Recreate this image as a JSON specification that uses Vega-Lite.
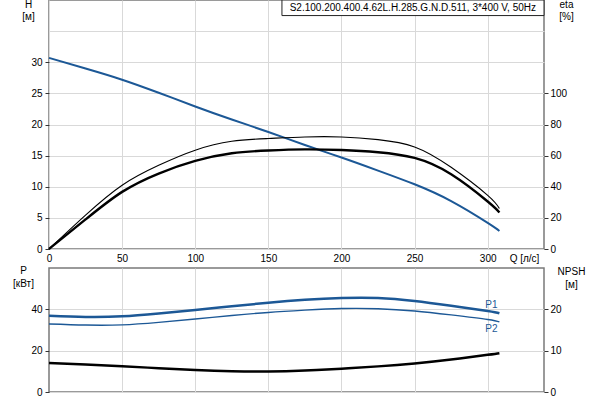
{
  "$schema": "https://vega.github.io/schema/vega-lite/v6.json",
  "autosize": "none",
  "padding": {"left": 49, "top": 0, "right": 551, "bottom": 400},
  "config": {
    "font": "Liberation Sans",
    "view": {"stroke": "#7a7a7a", "strokeWidth": 1.5},
    "axis": {
      "labelFontSize": 10,
      "labelColor": "#000",
      "titleFontSize": 10,
      "titleFontWeight": "normal",
      "titleColor": "#000",
      "gridColor": "#d9d9d9",
      "gridWidth": 1,
      "tickColor": "#333",
      "domain": false,
      "labelFlush": false
    }
  },
  "datasets": {
    "H": [
      {"Q": 0, "H": 30.7}, {"Q": 25, "H": 29.0}, {"Q": 50, "H": 27.2},
      {"Q": 75, "H": 25.1}, {"Q": 100, "H": 22.9}, {"Q": 125, "H": 20.8}, {"Q": 150, "H": 18.8},
      {"Q": 175, "H": 16.7}, {"Q": 200, "H": 14.7}, {"Q": 225, "H": 12.6}, {"Q": 250, "H": 10.4},
      {"Q": 275, "H": 7.7}, {"Q": 300, "H": 4.2}, {"Q": 308, "H": 2.9}
    ],
    "eta": [
      {"Q": 0, "eta": 0, "curve": "thin"}, {"Q": 25, "eta": 21.8, "curve": "thin"},
      {"Q": 50, "eta": 41, "curve": "thin"}, {"Q": 75, "eta": 53.8, "curve": "thin"}, {"Q": 100, "eta": 63.5, "curve": "thin"},
      {"Q": 125, "eta": 69.2, "curve": "thin"}, {"Q": 150, "eta": 71, "curve": "thin"}, {"Q": 175, "eta": 72, "curve": "thin"},
      {"Q": 200, "eta": 72, "curve": "thin"}, {"Q": 225, "eta": 70.3, "curve": "thin"}, {"Q": 250, "eta": 65.6, "curve": "thin"},
      {"Q": 275, "eta": 52.5, "curve": "thin"}, {"Q": 300, "eta": 34.5, "curve": "thin"}, {"Q": 308, "eta": 26, "curve": "thin"},
      {"Q": 0, "eta": 0, "curve": "thick"}, {"Q": 25, "eta": 19, "curve": "thick"},
      {"Q": 50, "eta": 36.7, "curve": "thick"}, {"Q": 75, "eta": 48.5, "curve": "thick"}, {"Q": 100, "eta": 56.6, "curve": "thick"},
      {"Q": 125, "eta": 61.5, "curve": "thick"}, {"Q": 150, "eta": 63.3, "curve": "thick"}, {"Q": 175, "eta": 64, "curve": "thick"},
      {"Q": 200, "eta": 63.6, "curve": "thick"}, {"Q": 225, "eta": 62.2, "curve": "thick"}, {"Q": 250, "eta": 58.5, "curve": "thick"},
      {"Q": 275, "eta": 48, "curve": "thick"}, {"Q": 300, "eta": 30.5, "curve": "thick"}, {"Q": 308, "eta": 23.5, "curve": "thick"}
    ],
    "P1": [
      {"Q": 0, "P": 36.9}, {"Q": 25, "P": 36.3}, {"Q": 50, "P": 36.6}, {"Q": 75, "P": 38.0},
      {"Q": 100, "P": 39.7}, {"Q": 125, "P": 41.5}, {"Q": 150, "P": 43.2}, {"Q": 175, "P": 44.6},
      {"Q": 200, "P": 45.5}, {"Q": 225, "P": 45.5}, {"Q": 250, "P": 44.0}, {"Q": 275, "P": 41.7},
      {"Q": 300, "P": 39.2}, {"Q": 308, "P": 38.1}
    ],
    "P2": [
      {"Q": 0, "P": 32.9}, {"Q": 25, "P": 32.4}, {"Q": 50, "P": 32.5}, {"Q": 75, "P": 33.7},
      {"Q": 100, "P": 35.3}, {"Q": 125, "P": 37.0}, {"Q": 150, "P": 38.5}, {"Q": 175, "P": 39.6},
      {"Q": 200, "P": 40.4}, {"Q": 225, "P": 40.3}, {"Q": 250, "P": 39.2}, {"Q": 275, "P": 37.3},
      {"Q": 300, "P": 35.1}, {"Q": 308, "P": 33.9}
    ],
    "NPSH": [
      {"Q": 0, "NPSH": 7.04}, {"Q": 25, "NPSH": 6.65}, {"Q": 50, "NPSH": 6.24}, {"Q": 75, "NPSH": 5.75},
      {"Q": 100, "NPSH": 5.3}, {"Q": 125, "NPSH": 5.0}, {"Q": 150, "NPSH": 4.95}, {"Q": 175, "NPSH": 5.2},
      {"Q": 200, "NPSH": 5.65}, {"Q": 225, "NPSH": 6.2}, {"Q": 250, "NPSH": 6.9}, {"Q": 275, "NPSH": 7.85},
      {"Q": 300, "NPSH": 9.0}, {"Q": 308, "NPSH": 9.4}
    ],
    "labels": [
      {"Q": 308, "P": 38.1, "label": "P1"},
      {"Q": 308, "P": 33.9, "label": "P2"}
    ],
    "box": [{"label": "S2.100.200.400.4.62L.H.285.G.N.D.511, 3*400 V, 50Hz"}]
  },
  "spacing": 19,
  "bounds": "flush",
  "vconcat": [
    {
      "width": 495,
      "height": 249,
      "layer": [
        {
          "layer": [
            {
              "data": {"name": "H"},
              "mark": {"type": "line", "color": "#1c5896", "strokeWidth": 2, "interpolate": "natural"},
              "encoding": {
                "x": {
                  "field": "Q", "type": "quantitative",
                  "scale": {"domain": [0, 338.5], "nice": false, "zero": false},
                  "axis": {
                    "values": [0, 50, 100, 150, 200, 250, 300], "labelFlush": false,
                    "ticks": false, "labelPadding": 4, "grid": true,
                    "title": "Q [л/с]", "titleX": 475, "titleY": 4,
                    "titleAlign": "center", "titleBaseline": "top", "titleFontSize": 10
                  }
                },
                "y": {
                  "field": "H", "type": "quantitative",
                  "scale": {"domain": [0, 40], "nice": false},
                  "axis": {
                    "values": [0, 5, 10, 15, 20, 25, 30, 35], "labelOverlap": false,
                    "labelExpr": "datum.value > 30 ? '' : datum.label",
                    "tickOpacity": {"condition": {"test": "datum.value > 30", "value": 0}, "value": 1},
                    "tickSize": 4, "labelPadding": 3, "grid": true,
                    "title": ["H", "[м]"], "titleAngle": 0, "titleX": -21, "titleY": -1,
                    "titleAlign": "center", "titleBaseline": "top", "titleLineHeight": 12
                  }
                }
              }
            },
            {
              "data": {"name": "box"},
              "mark": {"type": "rect", "fill": "white", "stroke": "#222", "strokeWidth": 1},
              "encoding": {
                "x": {
                  "datum": 159.3, "type": "quantitative",
                  "axis": {
                    "values": [0, 50, 100, 150, 200, 250, 300], "labelFlush": false,
                    "ticks": false, "labelPadding": 4, "grid": true,
                    "title": "Q [л/с]", "titleX": 475, "titleY": 4,
                    "titleAlign": "center", "titleBaseline": "top", "titleFontSize": 10
                  }
                },
                "x2": {"datum": 338.5},
                "y": {
                  "datum": 37.5, "type": "quantitative",
                  "axis": {
                    "values": [0, 5, 10, 15, 20, 25, 30, 35], "labelOverlap": false,
                    "labelExpr": "datum.value > 30 ? '' : datum.label",
                    "tickOpacity": {"condition": {"test": "datum.value > 30", "value": 0}, "value": 1},
                    "tickSize": 4, "labelPadding": 3, "grid": true,
                    "title": ["H", "[м]"], "titleAngle": 0, "titleX": -21, "titleY": -1,
                    "titleAlign": "center", "titleBaseline": "top", "titleLineHeight": 12
                  }
                },
                "y2": {"datum": 40}
              }
            },
            {
              "data": {"name": "box"},
              "mark": {"type": "text", "fontSize": 10, "align": "center", "baseline": "middle", "color": "#000"},
              "encoding": {
                "x": {
                  "datum": 248.8, "type": "quantitative",
                  "axis": {
                    "values": [0, 50, 100, 150, 200, 250, 300], "labelFlush": false,
                    "ticks": false, "labelPadding": 4, "grid": true,
                    "title": "Q [л/с]", "titleX": 475, "titleY": 4,
                    "titleAlign": "center", "titleBaseline": "top", "titleFontSize": 10
                  }
                },
                "y": {
                  "datum": 38.75, "type": "quantitative",
                  "axis": {
                    "values": [0, 5, 10, 15, 20, 25, 30, 35], "labelOverlap": false,
                    "labelExpr": "datum.value > 30 ? '' : datum.label",
                    "tickOpacity": {"condition": {"test": "datum.value > 30", "value": 0}, "value": 1},
                    "tickSize": 4, "labelPadding": 3, "grid": true,
                    "title": ["H", "[м]"], "titleAngle": 0, "titleX": -21, "titleY": -1,
                    "titleAlign": "center", "titleBaseline": "top", "titleLineHeight": 12
                  }
                },
                "text": {"field": "label"}
              }
            }
          ]
        },
        {
          "data": {"name": "eta"},
          "mark": {"type": "line", "color": "#000", "interpolate": "natural"},
          "encoding": {
            "x": {"field": "Q", "type": "quantitative"},
            "y": {
              "field": "eta", "type": "quantitative",
              "scale": {"domain": [0, 160], "nice": false},
              "axis": {
                "orient": "right", "values": [0, 20, 40, 60, 80, 100], "labelOverlap": false,
                "tickSize": 4, "labelPadding": 2, "grid": false,
                "title": ["eta", "[%]"], "titleAngle": 0, "titleX": 22, "titleY": -1,
                "titleAlign": "center", "titleBaseline": "top", "titleLineHeight": 12
              }
            },
            "detail": {"field": "curve"},
            "strokeWidth": {"field": "curve", "type": "nominal", "scale": {"domain": ["thin", "thick"], "range": [1.1, 2.4]}, "legend": null}
          }
        }
      ],
      "resolve": {"scale": {"y": "independent"}, "axis": {"y": "independent"}}
    },
    {
      "width": 495,
      "height": 124,
      "layer": [
        {
          "layer": [
            {
              "data": {"name": "P1"},
              "mark": {"type": "line", "color": "#1c5896", "strokeWidth": 2.5, "interpolate": "natural"},
              "encoding": {
                "x": {
                  "field": "Q", "type": "quantitative",
                  "scale": {"domain": [0, 338.5], "nice": false, "zero": false},
                  "axis": {"values": [50, 100, 150, 200, 250, 300], "labels": false, "ticks": false, "grid": true, "title": null}
                },
                "y": {
                  "field": "P", "type": "quantitative",
                  "scale": {"domain": [0, 60], "nice": false},
                  "axis": {
                    "values": [0, 20, 40], "tickSize": 4, "labelPadding": 3, "grid": true, "labelOverlap": false,
                    "title": ["P", "[кВт]"], "titleAngle": 0, "titleX": -26, "titleY": -2.5,
                    "titleAlign": "center", "titleBaseline": "top", "titleLineHeight": 12.5
                  }
                }
              }
            },
            {
              "data": {"name": "P2"},
              "mark": {"type": "line", "color": "#1c5896", "strokeWidth": 1.4, "interpolate": "natural"},
              "encoding": {
                "x": {
                  "field": "Q", "type": "quantitative",
                  "axis": {"values": [50, 100, 150, 200, 250, 300], "labels": false, "ticks": false, "grid": true, "title": null}
                },
                "y": {
                  "field": "P", "type": "quantitative",
                  "axis": {
                    "values": [0, 20, 40], "tickSize": 4, "labelPadding": 3, "grid": true, "labelOverlap": false,
                    "title": ["P", "[кВт]"], "titleAngle": 0, "titleX": -26, "titleY": -2.5,
                    "titleAlign": "center", "titleBaseline": "top", "titleLineHeight": 12.5
                  }
                }
              }
            },
            {
              "data": {"name": "labels"},
              "transform": [{"filter": "datum.label == 'P1'"}],
              "mark": {"type": "text", "color": "#1c5896", "fontSize": 10, "align": "center", "baseline": "middle", "dx": -8, "dy": -8},
              "encoding": {
                "x": {
                  "field": "Q", "type": "quantitative",
                  "axis": {"values": [50, 100, 150, 200, 250, 300], "labels": false, "ticks": false, "grid": true, "title": null}
                },
                "y": {
                  "field": "P", "type": "quantitative",
                  "axis": {
                    "values": [0, 20, 40], "tickSize": 4, "labelPadding": 3, "grid": true, "labelOverlap": false,
                    "title": ["P", "[кВт]"], "titleAngle": 0, "titleX": -26, "titleY": -2.5,
                    "titleAlign": "center", "titleBaseline": "top", "titleLineHeight": 12.5
                  }
                },
                "text": {"field": "label"}
              }
            },
            {
              "data": {"name": "labels"},
              "transform": [{"filter": "datum.label == 'P2'"}],
              "mark": {"type": "text", "color": "#1c5896", "fontSize": 10, "align": "center", "baseline": "middle", "dx": -8, "dy": 7.5},
              "encoding": {
                "x": {
                  "field": "Q", "type": "quantitative",
                  "axis": {"values": [50, 100, 150, 200, 250, 300], "labels": false, "ticks": false, "grid": true, "title": null}
                },
                "y": {
                  "field": "P", "type": "quantitative",
                  "axis": {
                    "values": [0, 20, 40], "tickSize": 4, "labelPadding": 3, "grid": true, "labelOverlap": false,
                    "title": ["P", "[кВт]"], "titleAngle": 0, "titleX": -26, "titleY": -2.5,
                    "titleAlign": "center", "titleBaseline": "top", "titleLineHeight": 12.5
                  }
                },
                "text": {"field": "label"}
              }
            }
          ]
        },
        {
          "data": {"name": "NPSH"},
          "mark": {"type": "line", "color": "#000", "strokeWidth": 2.5, "interpolate": "natural"},
          "encoding": {
            "x": {"field": "Q", "type": "quantitative"},
            "y": {
              "field": "NPSH", "type": "quantitative",
              "scale": {"domain": [0, 30], "nice": false},
              "axis": {
                "orient": "right", "values": [0, 10, 20], "tickSize": 4, "labelPadding": 2, "grid": false, "labelOverlap": false,
                "title": ["NPSH", "[м]"], "titleAngle": 0, "titleX": 27, "titleY": -2,
                "titleAlign": "center", "titleBaseline": "top", "titleLineHeight": 13
              }
            }
          }
        }
      ],
      "resolve": {"scale": {"y": "independent"}, "axis": {"y": "independent"}}
    }
  ]
}
